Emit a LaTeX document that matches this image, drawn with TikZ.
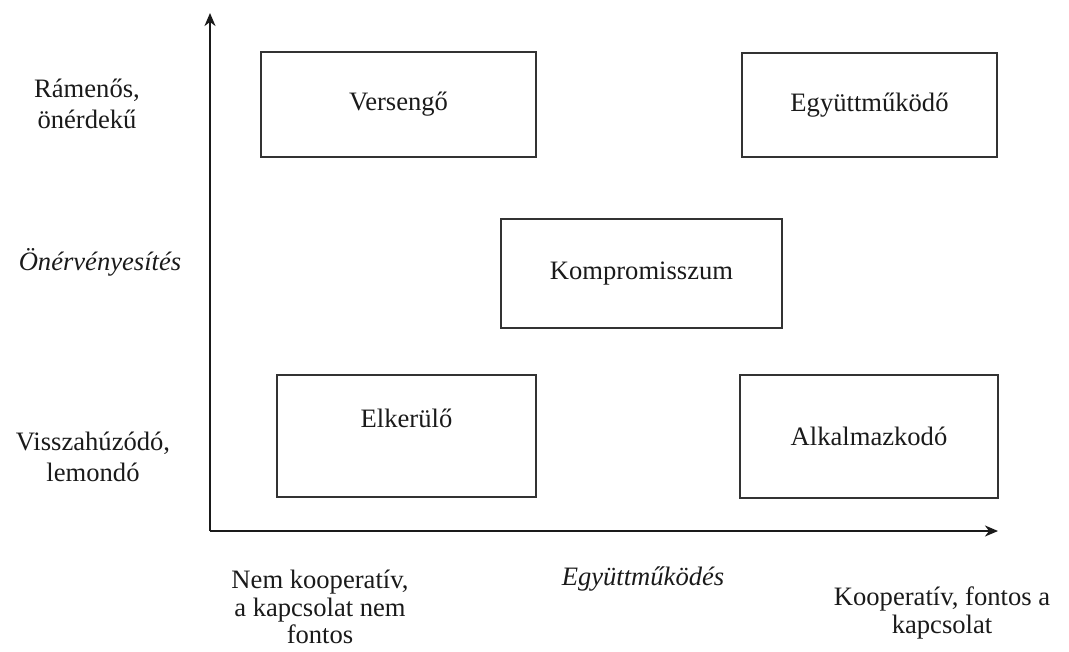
\documentclass[tikz,border=0pt]{standalone}
\usepackage{fontspec}
\setmainfont{Liberation Serif}
\usepackage{tikz}
\usetikzlibrary{arrows.meta,positioning}
\definecolor{linegray}{HTML}{333333}
\definecolor{textdark}{HTML}{1A1A1A}

\tikzset{
    stylebox/.style={draw=linegray, line width=0.8pt, rectangle, inner sep=0pt, outer sep=0pt,
        font=\fontsize{13.3pt}{15.5pt}\selectfont, text=textdark},
    sidetext/.style={font=\fontsize{13.3pt}{15.5pt}\selectfont, text=textdark, align=center, inner sep=0pt},
    basetext/.style={font=\fontsize{13.3pt}{13.8pt}\selectfont, text=textdark, align=center, inner sep=0pt},
    axisline/.style={draw=textdark, line width=1pt, -{Stealth[length=6.5pt,width=5.5pt,inset=2pt]}}
}

\begin{document}
\begin{tikzpicture}[x=0.5pt, y=-0.5pt]
    \useasboundingbox (0,0) rectangle (1069,652);

    % Axes
    \coordinate (origin) at (210,531);
    \coordinate (ytop) at (210,13);
    \coordinate (xend) at (998,531);
    \draw[axisline] (origin) -- (ytop);
    \draw[axisline] (origin) -- (xend);

    % Styles of conflict handling
    \node[stylebox, minimum width=137.5pt, minimum height=52.5pt] (versengo) at (398.5,104.5) {Versengő};
    \node[stylebox, minimum width=127.5pt, minimum height=52pt] (egyuttmukodo) at (869.5,105) {Együttműködő};
    \node[stylebox, minimum width=140.5pt, minimum height=54.5pt] (kompromisszum) at (641.5,273.5) {Kompromisszum};
    \node[stylebox, minimum width=129.5pt, minimum height=61pt,
        label={[sidetext, yshift=9pt]center:Elkerülő}] (elkerulo) at (406.5,436) {};
    \node[stylebox, minimum width=129pt, minimum height=61.5pt] (alkalmazkodo) at (869,436.5) {Alkalmazkodó};

    % Vertical axis labels
    \node[sidetext] (ramenos) at (87,104) {Rámenős,\\önérdekű};
    \node[sidetext, font=\fontsize{13.3pt}{15.5pt}\selectfont\itshape] (onervenyesites) at (100,262) {Önérvényesítés};
    \node[sidetext] (visszahuzodo) at (93,457) {Visszahúzódó,\\lemondó};

    % Horizontal axis labels
    \node[basetext] (nemkoop) at (320,607) {Nem kooperatív,\\a kapcsolat nem\\fontos};
    \node[basetext, font=\fontsize{13.3pt}{13.8pt}\selectfont\itshape] (egyuttmukodes) at (643,579) {Együttműködés};
    \node[basetext] (koop) at (942,613) {Kooperatív, fontos a\\kapcsolat};
\end{tikzpicture}
\end{document}
